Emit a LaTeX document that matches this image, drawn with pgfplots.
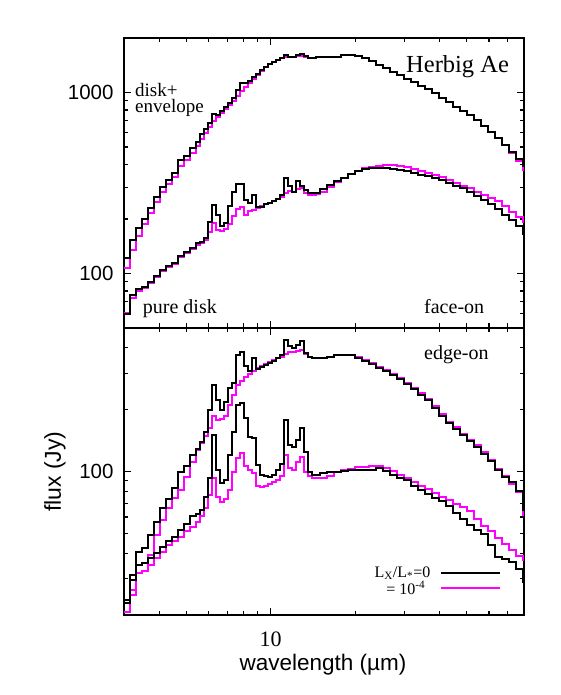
\documentclass[border=0pt]{standalone}
\usepackage{pgfplots}
\pgfplotsset{compat=1.18}
\usepackage{pgfplotstable}
\usepackage{fontspec}
\setmainfont{Liberation Serif}
\setsansfont{Liberation Sans}
\definecolor{mag}{rgb}{1,0,1}

\pgfplotstableread{
x envb envm diskb diskm
2.993 121.5 107 59.6 60.3
3.145 152.8 134.5 75.9 73.1
3.303 178.0 160.7 81.9 79.8
3.470 199.5 187.3 84.0 82.9
3.646 229.5 215.4 89.5 88.4
3.830 264.1 247.7 96.6 95.4
4.024 299.8 281.4 104.3 103.0
4.228 327.7 311.4 109.7 108.3
4.442 358.2 340.4 114.0 112.5
4.667 422.6 391.6 124.6 123.0
4.902 444.8 422.6 131.1 129.5
5.150 492.4 462 138.0 136.2
5.411 531.4 505 147.1 143.4
5.590 588.4 552 148.9 147.1
5.778 627.0 596 156.7 152.8
5.971 676.7 643 192.1 169.1
6.171 758.9 694 238.4 189.6
6.376 749.3 730 210.0 173.5
6.590 788.4 768.6 182.5 171.3
6.811 829.5 808.6 189.6 175.7
7.039 873.1 851 235.4 187.3
7.274 930.0 895 281.4 207.3
7.518 1029.7 954 311.4 226.6
7.769 1125.6 1017 311.4 232.4
8.029 1125.6 1070 254.1 210.0
8.298 1154.5 1125.6 244.6 220.9
8.575 1214.8 1184 270.8 223.7
8.862 1262.1 1246 232.4 229.5
9.158 1328.1 1311 232.4 235.4
9.465 1380 1380 241.5 241.5
9.781 1434 1434 244.6 244.6
10.11 1471 1471 250.9 250.9
10.44 1509 1509 257.4 257.4
10.80 1547 1547 270.8 264.1
11.16 1607 1567 336.1 277.8
11.53 1567 1567 303.6 285.0
11.92 1567 1567 281.4 281.4
12.31 1607 1587 323.6 292.3
12.73 1628 1587 303.6 296.0
13.15 1587 1567 288.6 277.8
13.59 1547 1547 277.8 270.8
14.05 1547 1547 277.8 270.8
14.52 1567 1567 277.8 274.3
15.00 1567 1567 292.3 281.4
15.89 1567 1567 307.5 299.8
16.83 1567 1567 323.6 319.5
17.83 1607 1607 336.1 336.1
18.89 1607 1607 353.7 353.7
20.00 1587 1587 367.4 367.4
21.19 1547 1547 376.9 381.8
22.44 1489 1489 381.8 386.7
23.78 1415 1415 381.8 391.6
25.19 1362 1362 381.8 396.6
26.68 1295 1295 376.9 396.6
28.26 1246 1246 372.1 391.6
29.94 1184 1184 367.4 386.7
31.70 1140 1140 358.2 376.9
33.59 1083 1083 349.2 367.4
35.57 1043 1043 344.8 358.2
37.69 991 991 336.1 349.2
39.92 930 930 327.7 340.4
42.28 884 884 315.4 327.7
44.79 829.5 829.5 303.6 315.4
47.45 788.4 788.4 296.0 303.6
50.25 749.3 749.3 281.4 296.0
53.23 703 703 267.4 281.4
56.39 651 651 254.1 270.8
59.73 603 603 241.5 260.6
63.25 559 559 226.6 250.9
67.01 511 511 210.0 235.4
70.98 468 462 197.0 218.1
75.18 428 417 182.5 204.7
79.64 392 372 164.9 192.1
80.00 392 372 164.9 192.1
}\toptable

\pgfplotstableread{
x envb envm diskb diskm
2.993 23.66 20.69 22.88 20.69
3.145 31.33 26.48 29.62 25.03
3.303 40.59 32.05 35.07 32.05
3.470 42.45 32.77 35.86 32.77
3.646 49.12 39.25 37.93 35.07
3.830 56.84 49.12 40.13 37.93
4.024 66.50 58.14 42.93 40.59
4.228 73.57 66.50 45.92 43.90
4.442 83.26 74.41 48.02 45.92
4.667 99.7 81.45 51.94 48.02
4.902 106.6 94.2 55.57 51.36
5.150 120.6 111.5 60.79 53.73
5.411 129.0 127.6 62.18 56.84
5.590 139.6 138.0 65.04 60.79
5.778 156.2 149.3 75.25 66.50
5.971 200.0 163.4 93.17 76.95
6.171 264.8 187.0 151.0 93.17
6.376 223.8 178.7 101.9 75.25
6.590 200.0 180.7 88.08 71.16
6.811 218.8 187.0 91.11 73.57
7.039 256.0 211.6 120.6 81.45
7.274 270.8 236.6 156.2 99.7
7.518 370.9 264.8 211.6 116.6
7.769 383.6 277.0 216.3 123.4
8.029 327.8 289.7 182.8 106.6
8.298 309.9 299.6 147.7 101.9
8.575 358.6 309.9 146.0 98.55
8.862 316.9 320.5 107.8 85.17
9.158 324.2 327.8 96.36 84.19
9.465 331.5 335.3 95.28 85.17
9.781 339.0 342.8 94.2 87.10
10.11 346.7 350.6 96.36 89.1
10.44 358.6 358.6 101.9 91.11
10.80 370.9 362.7 109.0 95.28
11.16 439.0 375.1 178.7 120.6
11.53 410.4 383.6 134.9 104.2
11.92 401.2 383.6 132.0 101.9
12.31 415.0 388.0 142.8 111.5
12.73 434.1 392.4 163.4 117.9
13.15 379.3 375.1 124.8 99.7
13.59 362.7 362.7 99.7 95.28
14.05 358.6 358.6 96.36 93.17
14.52 358.6 358.6 96.36 93.17
15.00 358.6 358.6 98.55 93.17
15.89 362.7 362.7 99.7 95.28
16.83 370.9 370.9 99.7 99.7
17.83 370.9 370.9 100.8 101.9
18.89 370.9 370.9 101.9 103.1
20.00 358.6 362.7 101.9 105.4
21.19 346.7 350.6 101.9 105.4
22.44 335.3 339.0 101.9 106.6
23.78 320.5 324.2 104.2 106.6
25.19 309.9 313 100.8 104.2
26.68 296.3 299.6 96.36 100.8
28.26 283.3 286 93.17 96.36
29.94 267.8 271 91.11 93.17
31.70 253.2 256 85.17 89.1
33.59 236.6 240 81.45 85.17
35.57 223.8 226 77.83 82.37
37.69 204.5 208 74.41 78.72
39.92 187.0 190 71.97 75.25
42.28 172.8 175 68.03 72.78
44.79 161.6 164 62.88 69.58
47.45 151.0 153 58.78 67.27
50.25 141.2 143 54.95 64.33
53.23 132.0 134 51.94 58.78
56.39 122.0 124 49.66 54.34
59.73 112.8 114 43.90 51.36
63.25 101.9 103 38.36 47.48
67.01 94.2 95 37.51 44.38
70.98 89.1 87.1 36.27 41.50
75.18 80.5 79.6 33.52 38.80
79.64 65.0 61.5 28.97 37.09
80.00 65.0 61.5 28.97 37.09
}\bottable

\pgfplotsset{
  stp/.style={const plot, line width=2pt},
}

\begin{document}
\begin{tikzpicture}[x=1pt,y=1pt]
\path[use as bounding box] (0,0) rectangle (561,695);

\begin{axis}[xmode=log, ymode=log,
  scale only axis, width=400pt, height=290pt,
  at={(124pt,367pt)}, anchor=south west,
  xmin=3, xmax=80, ymin=50, ymax=2000,
  xtick={10}, minor xtick={3,4,5,6,7,8,9,20,30,40,50,60,70,80},
  ytick={100,1000}, yticklabels={100,1000},
  minor ytick={50,60,70,80,90,200,300,400,500,600,700,800,900,2000},
  axis line style={line width=1.2pt},
  tick style={line width=1.1pt, black},
  major tick length=7pt, minor tick length=4.5pt,
  tick align=inside,
  yticklabel style={font=\fontsize{20.5}{20.5}\selectfont\sffamily, xshift=-7pt},
  xticklabels={}]
\addplot[stp, mag] table[x=x,y=envm]{\toptable};
\addplot[stp, mag] table[x=x,y=diskm]{\toptable};
\addplot[stp, black] table[x=x,y=envb]{\toptable};
\addplot[stp, black] table[x=x,y=diskb]{\toptable};
\end{axis}

\begin{axis}[xmode=log, ymode=log,
  scale only axis, width=400pt, height=287pt,
  at={(124pt,80pt)}, anchor=south west,
  xmin=3, xmax=80, ymin=20, ymax=500,
  xtick={10}, xticklabels={10},
  minor xtick={3,4,5,6,7,8,9,20,30,40,50,60,70,80},
  ytick={100}, yticklabels={100},
  minor ytick={20,30,40,50,60,70,80,90,200,300,400,500},
  axis line style={line width=1.2pt},
  tick style={line width=1.1pt, black},
  major tick length=7pt, minor tick length=4.5pt,
  tick align=inside,
  yticklabel style={font=\fontsize{20.5}{20.5}\selectfont\sffamily, xshift=-7pt},
  xticklabel style={font=\fontsize{22}{22}\selectfont\rmfamily, yshift=-13pt},
  legend style={draw=none, fill=none, at={(0.95,0.178)}, anchor=north east,
    font=\fontsize{16}{16}\selectfont, row sep=1pt, nodes={inner sep=0.5pt}},
  legend cell align=right,
  legend plot pos=right,
  legend image code/.code={\path[draw=none,fill=none] (0pt,0pt) -- (69pt,0pt);\draw[#1, line width=2pt] (10pt,0pt) -- (69pt,0pt);},
]
\addplot[stp, mag, forget plot] table[x=x,y=envm]{\bottable};
\addplot[stp, mag, forget plot] table[x=x,y=diskm]{\bottable};
\addplot[stp, black, forget plot] table[x=x,y=envb]{\bottable};
\addplot[stp, black, forget plot] table[x=x,y=diskb]{\bottable};
\addlegendimage{black}
\addlegendentry{L\textsubscript{X}/L\textsubscript{*}=0}
\addlegendimage{mag}
\addlegendentry{= 10\textsuperscript{-4}\kern5pt}
\end{axis}

\node[anchor=base west, inner sep=0, font=\fontsize{24.5}{24.5}\selectfont] at (406,622.3) {Herbig Ae};
\node[anchor=base west, inner sep=0, font=\fontsize{19}{19}\selectfont] at (135,598.3) {disk+};
\node[anchor=base west, inner sep=0, font=\fontsize{19}{19}\selectfont] at (135,582.3) {envelope};
\node[anchor=base west, inner sep=0, font=\fontsize{20}{20}\selectfont] at (142.7,381) {pure disk};
\node[anchor=base west, inner sep=0, font=\fontsize{20}{20}\selectfont] at (424,381.7) {face-on};
\node[anchor=base west, inner sep=0, font=\fontsize{20}{20}\selectfont] at (424,335) {edge-on};
\node[anchor=base, inner sep=0, font=\fontsize{22.5}{22.5}\selectfont\sffamily] at (323,24.3) {wavelength (µm)};
\node[rotate=90, anchor=center, inner sep=0, font=\fontsize{23}{23}\selectfont\sffamily] at (55,223.3) {flux (Jy)};
\end{tikzpicture}
\end{document}
